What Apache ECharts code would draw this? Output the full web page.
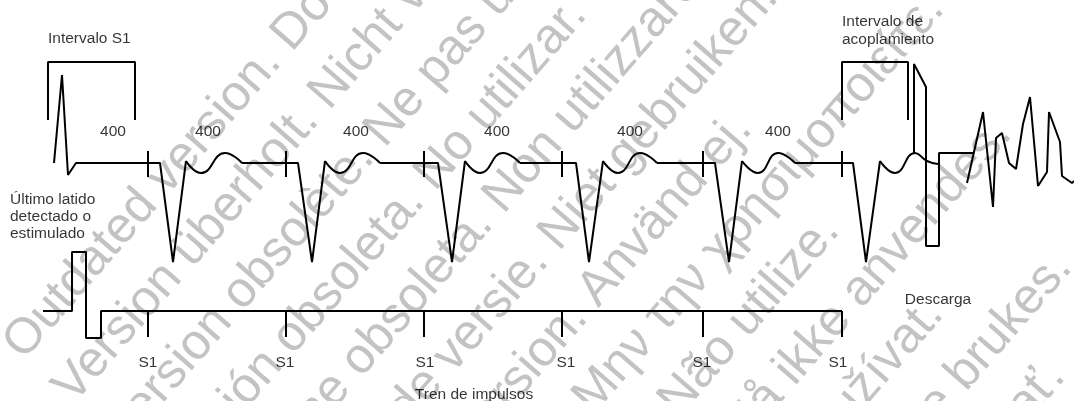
<!DOCTYPE html>
<html>
<head>
<meta charset="utf-8">
<script src="https://cdn.jsdelivr.net/npm/echarts@6/dist/echarts.min.js"></script>
<style>
html,body{margin:0;padding:0;background:#fff;}
#chart{width:1074px;height:401px;}
</style>
</head>
<body>
<div id="chart"></div>
<script>
// ---- Data (diagram units: horizontal time position, vertical signal level) ----
const stimulusTimes = [148, 286, 424, 562, 703, 842];

// QRS complexes / straight parts of the top electrogram trace
const qrsSegments = [
  [[54,163],[62,75],[68,175],[76,163],[160,163],[173,262],[186,161]],
  [[242,163],[298,163],[312,262],[325,161]],
  [[380,163],[438,163],[452,262],[465,161]],
  [[520,163],[576,163],[589,262],[603,161]],
  [[657,163],[715,163],[729,262],[742,161]],
  [[795,163],[853,163],[866,262],[880,161]]
];
// T waves (smooth)
const tWaves = [
  [[186,161],[201,173],[225,153],[242,163]],
  [[325,161],[340,173],[363,153],[380,163]],
  [[465,161],[480,173],[503,153],[520,163]],
  [[603,161],[618,173],[640,153],[657,163]],
  [[742,161],[758,173],[778,153],[795,163]],
  [[880,161],[895,173],[915,153],[927,161],[938,164]]
];
// Shock
const shockTrace = [[914,153],[914,64],[926,87],[926,246],[939,246],[939,153],[973,153]];
// Induced fibrillation
const vfTrace = [[967,183],[983,112],[993,207],[996,138],[1002,133],[1009,163],[1016,169],[1023,124],[1030,97],[1038,186],[1047,172],[1049,112],[1060,142],[1062,176],[1072,183],[1074,181]];
// Lower pulse-train channel
const pulseTrain = [[43,311],[72,311],[72,252],[86,252],[86,338],[101,338],[101,311],[842,311]];
const topTickSpan = [151, 177];
const bottomTickSpan = [311, 337];
// Brackets
const bracketS1 = [[48,120],[48,62],[135,62],[135,120]];
const bracketCoupling = [[842,120],[842,62],[908,62],[908,120]];

// Annotations
const intervalValues = ['400','400','400','400','400','400'];
const intervalLabelX = [113, 208, 356, 497, 630, 778];
const intervalLabelY = 132;
const s1Labels = ['S1','S1','S1','S1','S1','S1'];
const s1LabelX = [148, 285, 425, 566, 702, 838];
const s1LabelY = 363;
const leftTexts = [
  ['Intervalo S1', 48, 39],
  ['Último latido', 10, 200],
  ['detectado o', 10, 217],
  ['estimulado', 10, 234],
  ['Intervalo de', 842, 22],
  ['acoplamiento', 842, 40]
];
const centerTexts = [
  ['Tren de impulsos', 474, 395],
  ['Descarga', 938, 300]
];

const watermarkLines = [
  'Outdated version. Do not use.',
  'Version überholt. Nicht verwenden.',
  'Version obsolète. Ne pas utiliser.',
  'Versión obsoleta. No utilizar.',
  'Versione obsoleta. Non utilizzare.',
  'Verouderde versie. Niet gebruiken.',
  'Föråldrad version. Använd ej.',
  'Παλιά έκδοση. Μην την χρησιμοποιείτε.',
  'Versão obsoleta. Não utilize.',
  'Forældet version. Må ikke anvendes.',
  'Zastaralá verze. Nepoužívat.',
  'Utdatert versjon. Skal ikke brukes.',
  'Zastaraná verzia. Nepoužívať.',
  'Elavult verzió. Ne használja!'
];

// ---- Build chart ----
const FONT = "'Liberation Sans', Arial, sans-serif";
const lineStyle = {color:'#000', width:2};
function lineSeries(data, smooth){
  return {type:'line', data:data, symbol:'none', smooth:smooth ? 0.5 : false,
    lineStyle:lineStyle, silent:true, animation:false, z:5, clip:false};
}
const series = [];
qrsSegments.forEach(s => series.push(lineSeries(s, false)));
tWaves.forEach(s => series.push(lineSeries(s, true)));
series.push(lineSeries(shockTrace, false));
series.push(lineSeries(vfTrace, false));
series.push(lineSeries(pulseTrain, false));
stimulusTimes.forEach(t => {
  series.push(lineSeries([[t, topTickSpan[0]],[t, topTickSpan[1]]], false));
  series.push(lineSeries([[t, bottomTickSpan[0]],[t, bottomTickSpan[1]]], false));
});
series.push(lineSeries(bracketS1, false));
series.push(lineSeries(bracketCoupling, false));

function textSeries(items, align){
  return {
    type:'scatter', symbolSize:1, itemStyle:{color:'rgba(0,0,0,0)'}, silent:true, animation:false, z:6,
    data: items.map(it => ({value:[it[1], it[2]], name: it[0]})),
    label:{show:true, position:'inside', align:align, verticalAlign:'middle',
      formatter: p => p.name, color:'#000', fontSize:15.5, fontFamily:FONT}
  };
}
series.push(textSeries(intervalValues.map((v,i)=>[v, intervalLabelX[i], intervalLabelY]), 'center'));
series.push(textSeries(s1Labels.map((v,i)=>[v, s1LabelX[i], s1LabelY]), 'center'));
series.push(textSeries(leftTexts, 'left'));
series.push(textSeries(centerTexts, 'center'));

// watermark (background decoration)
const ang = 49 * Math.PI / 180;
const dx = Math.cos(ang), dy = -Math.sin(ang);
const nx = Math.sin(ang), ny = Math.cos(ang);
const graphics = watermarkLines.map((txt, k) => {
  const p = 241 + 66.5 * k, s0 = -257;
  return {
    type:'text', x: p*nx + s0*dx, y: p*ny + s0*dy, rotation: ang, silent:true, z:0,
    style:{text:txt, x:0, y:0, fill:'#c3c3c3', font:"50px 'Liberation Sans', Arial, sans-serif",
      textAlign:'left', textVerticalAlign:'middle', align:'left', verticalAlign:'middle'}
  };
});

const chart = echarts.init(document.getElementById('chart'), null, {renderer:'canvas'});
chart.setOption({
  animation:false,
  backgroundColor:'#ffffff',
  grid:{left:0, right:0, top:0, bottom:0},
  xAxis:{type:'value', min:0, max:1074, show:false},
  yAxis:{type:'value', min:0, max:401, inverse:true, show:false},
  graphic:{elements:graphics},
  series:series
});
</script>
</body>
</html>
